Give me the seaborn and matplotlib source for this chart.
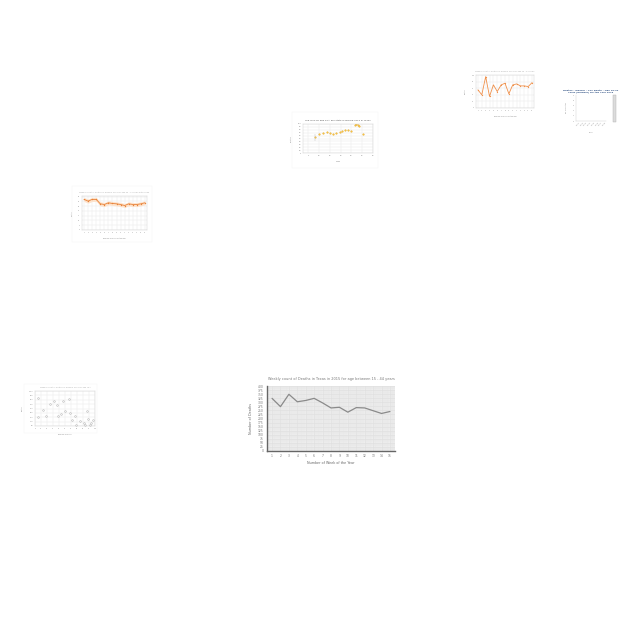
import numpy as np
import pandas as pd
import matplotlib
matplotlib.use("Agg")
import matplotlib.pyplot as plt
import seaborn as sns

# main chart: weekly deaths, Texas 2015, age 15-44
weeks = list(range(1, 16))
deaths = [324, 273, 349, 303, 311, 324, 296, 265, 269, 239, 267, 265, 248, 231, 243]

# small scatter (top centre)
rank_x = [6, 10, 14, 17, 20, 23, 26, 29, 31, 34, 37, 40, 43, 44, 46, 47, 51]
rank_y = [54, 67, 69, 71, 69, 67, 69, 72, 75, 78, 78, 77, 96, 100, 98, 92, 67]

# small zigzag line (top right)
zig_y = [55, 40, 95, 35, 70, 50, 70, 75, 43, 70, 73, 67, 67, 65, 77]

# empty bar chart (far right)
bar_cats = ["Wk 1", "Wk 2", "Wk 3", "Wk 4", "Wk 5", "Wk 6", "Wk 7", "Wk 8"]
bar_vals = [0, 0, 0, 0, 0, 0, 0, 0]

# flat-ish orange line with band (left)
flat_y = [90, 85, 90, 90, 77, 75, 80, 78, 77, 75, 72, 77, 75, 75, 77, 80]

# scatter (bottom left)
sc_x = [5.6, 5.6, 14, 19, 25, 31, 36, 39, 44, 47, 50, 56, 58, 61, 67, 69, 75, 81, 83, 86, 89, 92, 94, 97]
sc_y = [80, 25, 47, 30, 64, 72, 59, 30, 34, 72, 42, 76, 38, 17, 30, 4, 13, 8, 4, 42, 21, 4, 8, 17]


def box(x0, y0, x1, y1):
    return [x0 / 640, 1 - y1 / 640, (x1 - x0) / 640, (y1 - y0) / 640]


def tiny(ax, size=1.6):
    ax.tick_params(labelsize=size, length=0.6, width=0.3, pad=0.6, colors="#888888")
    for sp in ax.spines.values():
        sp.set_linewidth(0.3)
        sp.set_color("#cccccc")
    ax.grid(True, color="#e6e6e6", linewidth=0.3)
    ax.xaxis.label.set_size(size)
    ax.yaxis.label.set_size(size)
    ax.xaxis.label.set_color("#888888")
    ax.yaxis.label.set_color("#888888")


def frame(fig, x0, y0, x1, y1):
    # faint border round a small chart card
    fig.patches.append(plt.Rectangle((x0 / 640, 1 - y1 / 640), (x1 - x0) / 640,
                                     (y1 - y0) / 640, transform=fig.transFigure,
                                     fill=False, edgecolor="#f4f4f4", linewidth=0.3))


sns.set_theme(style="whitegrid")
plt.rcParams["font.family"] = ["DejaVu Sans"]

fig = plt.figure(figsize=(6.4, 6.4), dpi=100)
fig.patch.set_facecolor("white")

# ---- main chart
ax = fig.add_axes(box(267, 386, 395, 451))
ax.set_facecolor("#f0f0f0")
df = pd.DataFrame({"week": weeks, "deaths": deaths})
sns.lineplot(data=df, x="week", y="deaths", color="#8a8a8a", linewidth=0.9, ax=ax)
ax.set_xlim(0.4, 15.6)
ax.set_ylim(0, 400)
ax.set_xticks(weeks)
ax.set_yticks(range(0, 401, 25))
ax.grid(True, color="#dcdcdc", linewidth=0.4)
ax.minorticks_on()
ax.grid(True, which="minor", color="#e6e6e6", linewidth=0.25)
ax.tick_params(which="minor", length=0)
ax.tick_params(labelsize=2.2, length=1, width=0.4, pad=1.5, colors="#777777")
for s in ["top", "right"]:
    ax.spines[s].set_visible(False)
for s in ["left", "bottom"]:
    ax.spines[s].set_color("#666666")
    ax.spines[s].set_linewidth(1.0)
ax.set_xlabel("Number of Week of the Year", fontsize=2.4, color="#666666", labelpad=2)
ax.set_ylabel("Number of Deaths", fontsize=2.4, color="#666666", labelpad=3)
ax.set_title("Weekly count of Deaths in Texas in 2015 for age between 15 - 44 years",
             fontsize=2.5, color="#777777", pad=4)

# ---- top centre scatter
frame(fig, 292, 112, 378, 168)
ax2 = fig.add_axes(box(303, 124, 373, 153))
sns.scatterplot(x=rank_x, y=rank_y, color="#f5c242", s=1.5, edgecolor="#e0a020",
                linewidth=0.2, ax=ax2)
ax2.errorbar(rank_x[:1], rank_y[:1], yerr=[[12], [10]], fmt="none",
             ecolor="#bbbbbb", elinewidth=0.3)
ax2.set_xlim(-5, 60)
ax2.set_ylim(0, 100)
ax2.set_xticks(range(0, 61, 10))
ax2.set_yticks(range(0, 101, 10))
ax2.set_xlabel("Week")
ax2.set_ylabel("Deaths")
tiny(ax2, 1.4)
ax2.set_title("Top rank by age 85+ per state in MMWR 2015 in Texas", fontsize=1.7,
              color="#555555", pad=2)

# ---- top right zigzag line
ax3 = fig.add_axes(box(476, 75, 534, 108))
sns.lineplot(x=list(range(1, len(zig_y) + 1)), y=zig_y, color="#f0904a", marker="o",
             markersize=0.9, markeredgewidth=0, linewidth=0.6, ax=ax3)
ax3.set_xlim(0.5, len(zig_y) + 0.5)
ax3.set_ylim(0, 100)
ax3.set_xticks(range(1, len(zig_y) + 1))
ax3.set_yticks(range(0, 101, 20))
ax3.set_xlabel("Number of Week of the Year")
ax3.set_ylabel("Deaths")
tiny(ax3, 1.2)
ax3.set_title("Weekly count of Deaths in Texas in 2015 for age 45 - 64 years",
              fontsize=1.4, color="#aaaaaa", pad=2)

# ---- far right empty bars
ax4 = fig.add_axes(box(576, 95, 606, 121))
sns.barplot(x=bar_cats, y=bar_vals, color="#4a7ebb", ax=ax4)
ax4.set_ylim(0, 10)
ax4.set_yticks(range(0, 11, 2))
ax4.set_xlabel("Week")
ax4.set_ylabel("No. of Deaths")
tiny(ax4, 1.2)
ax4.tick_params(axis="x", rotation=45)
ax4.grid(False)
ax4.spines["top"].set_visible(False)
ax4.spines["right"].set_visible(False)
ax4.set_title("Deaths - Weekly - Any Death - Age 15-44\nyears (Number) for the year 2015",
              fontsize=1.7, color="#3a5a8a", fontweight="bold", pad=2)
fig.patches.append(plt.Rectangle((613 / 640, 1 - 122 / 640), 3 / 640, 27 / 640,
                                 transform=fig.transFigure, facecolor="#dcdcdc",
                                 edgecolor="#b0b0b0", linewidth=0.3, zorder=0))

# ---- left orange line with band
frame(fig, 72, 186, 152, 242)
ax5 = fig.add_axes(box(82, 196, 147, 230))
fx = list(range(1, len(flat_y) + 1))
ax5.fill_between(fx, [v - 6 for v in flat_y], [v + 6 for v in flat_y],
                 color="#fde3cc", linewidth=0)
sns.lineplot(x=fx, y=flat_y, color="#e8833a", marker="o", markersize=1.0,
             markeredgewidth=0, linewidth=0.6, ax=ax5)
ax5.set_xlim(0.5, len(flat_y) + 0.5)
ax5.set_ylim(0, 100)
ax5.set_xticks(fx)
ax5.set_yticks(range(0, 101, 14))
ax5.set_xlabel("Number of Week of the Year")
ax5.set_ylabel("Deaths")
tiny(ax5, 1.2)
ax5.set_title("Weekly count of Deaths in Texas in 2015 for age 65 - 74 years with range",
              fontsize=1.4, color="#aaaaaa", pad=2)

# ---- bottom left scatter
frame(fig, 24, 384, 97, 433)
ax6 = fig.add_axes(box(35, 391, 95, 426))
sns.scatterplot(x=sc_x, y=sc_y, color="#f4f4f4", edgecolor="#9a9a9a", s=1.5,
                linewidth=0.25, ax=ax6)
ax6.set_xlim(0, 100)
ax6.set_ylim(0, 100)
ax6.set_xticks(range(0, 101, 10))
ax6.set_yticks(np.arange(0, 101, 12.5))
ax6.set_xlabel("Number of Week")
ax6.set_ylabel("Deaths")
tiny(ax6, 1.2)
ax6.set_title("Weekly count of Deaths in Texas in 2015 for age 75+",
              fontsize=1.4, color="#aaaaaa", pad=2)

fig.savefig("out.png", dpi=100, facecolor="white")
